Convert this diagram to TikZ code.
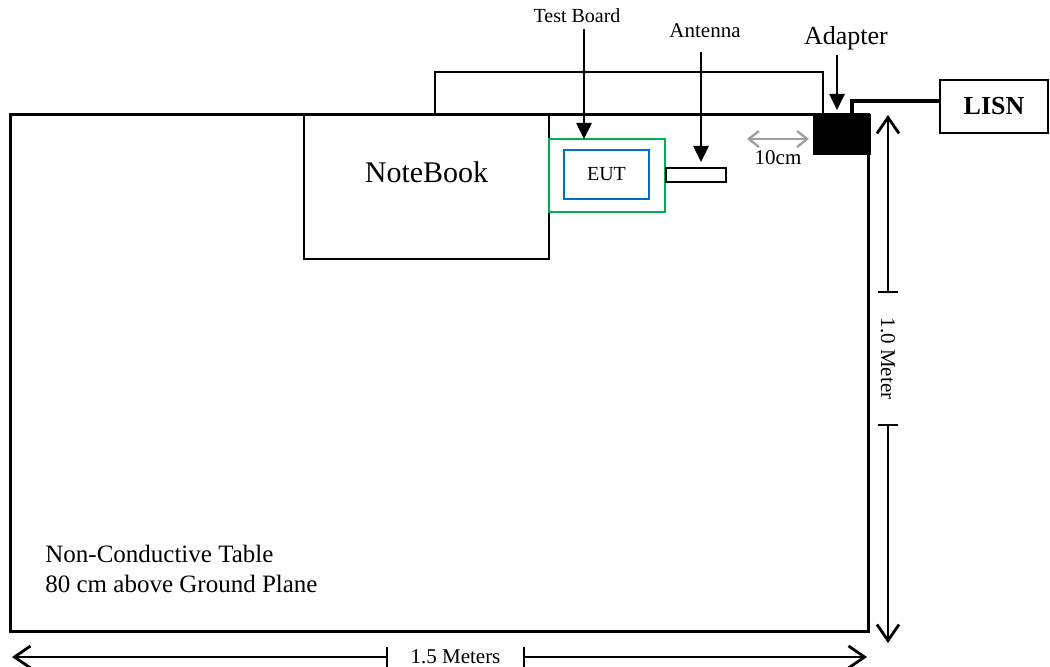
\documentclass[tikz,border=0pt]{standalone}
\usepackage{fontspec}
\setmainfont{Liberation Serif}
\usetikzlibrary{arrows.meta}

\definecolor{boardgreen}{RGB}{0,176,80}
\definecolor{eutblue}{RGB}{0,112,192}

\begin{document}
\begin{tikzpicture}[x=.5pt,y=-.5pt,
  box/.style={draw,line width=1pt,inner sep=0pt,outer sep=0pt},
  txt/.style={inner sep=0pt,font=\fontsize{#1}{#1}\selectfont},
  pointer/.style={line width=1.3pt,-{Triangle[length=8pt,width=7.5pt]}},
  dimline/.style={line width=1pt,{Bar[width=10pt]}-{Straight Barb[length=8pt,width=11pt,line width=1.4pt]}},
  gapline/.style={line width=1.2pt,gray!75,
    {Straight Barb[length=5pt,width=8pt]}-{Straight Barb[length=5pt,width=8pt]}}]
  \useasboundingbox (0,0) rectangle (1050,667);

  \node[box,line width=1.5pt,minimum width=429pt,minimum height=258.5pt] (table) at (439,373.5) {};
  \node[box,minimum width=122.5pt,minimum height=72pt,
        label={[txt=15,yshift=7.5pt]center:NoteBook}] (nb) at (426.5,187) {};
  \node[box,draw=boardgreen,minimum width=58pt,minimum height=36.5pt] (board) at (607,175.5) {};
  \node[box,draw=eutblue,minimum width=42.5pt,minimum height=24.5pt,
        font=\fontsize{10}{12}\selectfont] (eut) at (606.5,174.5) {EUT};
  \node[box,minimum width=30pt,minimum height=7pt] (ant) at (696,175) {};
  \node[box,fill=black,minimum width=28pt,minimum height=19.5pt] (adapter) at (842,134.5) {};
  \node[box,minimum width=54pt,minimum height=26.5pt,
        font=\bfseries\fontsize{13}{15}\selectfont] (lisn) at (994,106.5) {LISN};

  \node[txt=10,anchor=base] (tb) at (577,23) {Test Board};
  \node[txt=10.5,anchor=base] (antlabel) at (705,38) {Antenna};
  \node[txt=13,anchor=base] (adplabel) at (846,45) {Adapter};
  \node[inner sep=0pt,anchor=west,align=left,font=\fontsize{12.5}{15}\selectfont]
        (note) at (45,569) {Non-Conductive Table\\80 cm above Ground Plane};

  \draw[pointer] ([shift={(3.5pt,-3pt)}]tb.base) -- ([xshift=3.5pt]tb.base |- board.north);
  \draw[pointer,shorten >=3pt] ([shift={(-2pt,-7pt)}]antlabel.base) -- ([xshift=-2pt]antlabel.base |- ant.north);
  \draw[pointer,shorten >=2.5pt] ([shift={(-4.5pt,-5pt)}]adplabel.base) -- ([xshift=-4.5pt]adplabel.base |- adapter.north);

  \draw[line width=1pt] ([xshift=4.25pt]nb.north) -- ++(0,21.5pt) -| ([xshift=-9.5pt]adapter.north);
  \draw[line width=1.7pt] ([xshift=5pt]adapter.north) |- ([yshift=2.75pt]lisn.west);

  \coordinate (gl) at (747,139);
  \coordinate (gr) at (809,139);
  \draw[gapline] (gl) -- (gr) node[midway,below=5pt,txt=10.5,text=black] (gap) {10cm};

  \coordinate (vt) at (888,115);
  \coordinate (vb) at (888,643);
  \node[txt=10.5,rotate=-90,minimum width=65.5pt] (vlen) at (888,358.5) {1.0 Meter};
  \draw[dimline,line width=.8pt] (vlen.west) -- (vt);
  \draw[dimline,line width=.8pt] (vlen.east) -- (vb);

  \coordinate (hl) at (12,657);
  \coordinate (hr) at (867,657);
  \node[txt=10.5,minimum width=67.5pt] (hlen) at (455.5,657) {1.5 Meters};
  \draw[dimline] (hlen.west) -- (hl);
  \draw[dimline] (hlen.east) -- (hr);
\end{tikzpicture}
\end{document}
